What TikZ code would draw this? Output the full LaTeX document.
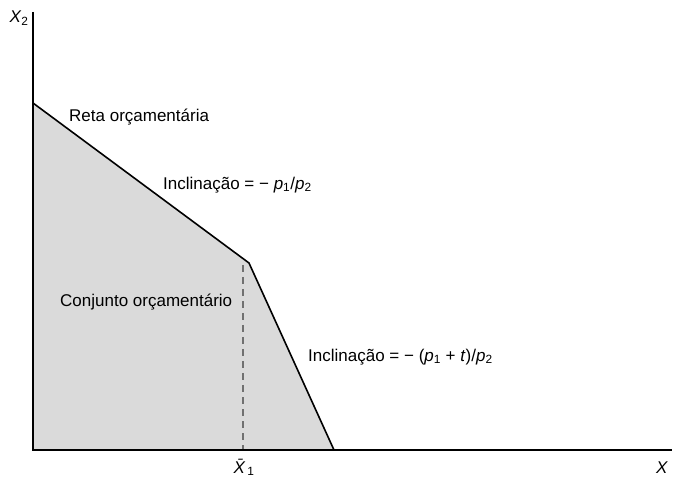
\documentclass[tikz,border=0pt]{standalone}
\usepackage{fontspec}
\setmainfont{Liberation Sans}
\usepackage{xcolor}
\usetikzlibrary{positioning,calc}
\definecolor{setgray}{HTML}{DADADA}
\definecolor{dashgray}{HTML}{707070}
\newcommand{\var}[2]{\textit{#1}\textsubscript{#2}}
\tikzset{
  axis/.style={line width=1.6pt,black},
  budget/.style={line width=1.6pt,black,line join=miter},
  region/.style={fill=setgray,draw=none},
  guide/.style={dashgray,line width=1.1pt,dash pattern=on 7pt off 5pt},
  lbl/.style={font=\fontsize{17}{20}\selectfont,inner sep=0pt,anchor=west},
}

\begin{document}
\begin{tikzpicture}[x=1pt,y=-1pt]
  \useasboundingbox (0,0) rectangle (675,478);
  \coordinate (o) at (33,450);
  \coordinate (ytop) at (33,12);
  \coordinate (xend) at (672,450);
  \coordinate (b0) at (33,103);
  \coordinate (k) at (249,263);
  \coordinate (b1) at (334,450);
  \coordinate (kx) at (243,265);
  \coordinate (kxb) at (243,450);
  \fill[region] (o) -- (b0) -- (k) -- (b1) -- cycle;
  \draw[guide] (kx) -- (kxb);
  \draw[budget] (b0) -- (k) -- (b1);
  \draw[axis] (ytop) -- (o) -- (xend);
  \node[lbl,anchor=base] (ylab) at (19,23) {\var{X}{2}};
  \node[lbl,anchor=base] (xbar) at (244,473) {\var{\={X}}{1}};
  \node[lbl,anchor=base] (xlab) at (662,473) {\textit{X}};
  \node[lbl] (reta) at (69,117) {Reta orçamentária};
  \node[lbl] (incl1) at (163,185) {Inclinação = − \var{p}{1}/\var{p}{2}};
  \node[lbl] (conj) at (60,302) {Conjunto orçamentário};
  \node[lbl] (incl2) at (308,357) {Inclinação = − (\var{p}{1} + \textit{t})/\var{p}{2}};
\end{tikzpicture}
\end{document}
